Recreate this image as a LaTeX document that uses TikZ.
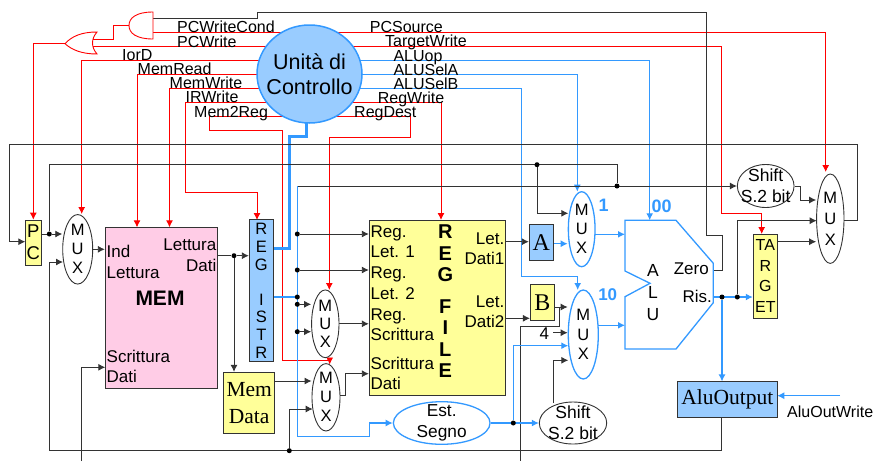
\documentclass[tikz,border=0pt]{standalone}
\usepackage{fontspec}
\setmainfont{Liberation Sans}
\newfontfamily\timesf{Liberation Serif}
\usetikzlibrary{arrows.meta,shapes,calc}
\pgfdeclarelayer{wires}
\pgfsetlayers{wires,main}
\definecolor{linkblue}{HTML}{3399FF}
\definecolor{regblue}{HTML}{99CCFF}
\definecolor{ylw}{HTML}{FFFF99}
\definecolor{memPink}{HTML}{FFCCE6}
\definecolor{wireGray}{HTML}{333333}
\tikzset{
  arr/.style={-{Latex[length=7pt,width=7pt]}},
  wire/.style={draw=wireGray,line width=0.9pt},
  redw/.style={draw=red,line width=0.9pt},
  bluew/.style={draw=linkblue,line width=1.3pt},
  box/.style={draw=wireGray,line width=1pt,inner sep=0pt,align=center},
  dot/.style={circle,fill=black,inner sep=0pt,minimum size=5pt},
  ctlab/.style={font=\fontsize{16}{18}\selectfont,inner sep=0pt,text height=11pt,text depth=2.5pt},
  txt/.style={font=\fontsize{17}{18}\selectfont,inner sep=0pt,text height=11.5pt,text depth=2.5pt},
  lab/.style={inner sep=0pt,align=center},
  ell/.style={ellipse,draw=wireGray,line width=0.9pt,fill=white,inner sep=0pt},
  mux/.style={ell,label={[lab,font=\fontsize{16.5}{#1}\selectfont]center:M\\U\\X}},
  gate/.style={draw=red,line width=0.9pt,fill=white},
}
\begin{document}
\begin{tikzpicture}[x=1pt,y=-1pt]
  \useasboundingbox (0,0) rectangle (875,461);
  \node[ell,draw=linkblue,line width=1.5pt,fill=regblue,minimum width=105pt,minimum height=98pt,label={[lab,font=\fontsize{21.5}{25}\selectfont]center:Unità di\\Controllo}] (cu) at (309.5,74) {};
  \node[box,fill=ylw,font=\fontsize{18.5}{22}\selectfont,minimum width=16pt,minimum height=45pt] (pc) at (33.3,242.7) {P\\C};
  \node[mux=19,minimum width=30pt,minimum height=69.5pt] (mux1) at (77.7,249.3) {};
  \node[box,fill=memPink,minimum width=112.4pt,minimum height=160.7pt] (mem) at (161.5,307.7) {};
  \node[box,fill=regblue,font=\fontsize{16.5}{17.6}\selectfont,minimum width=24pt,minimum height=141.7pt] (ireg) at (261.3,290.8) {R\\E\\G\\ \\I\\S\\T\\R};
  \node[box,fill=ylw,font=\timesf\fontsize{21.5}{27}\selectfont,minimum width=51pt,minimum height=60.7pt] (memd) at (249.2,402.7) {Mem\\Data};
  \node[box,fill=ylw,minimum width=136.4pt,minimum height=175pt] (rf) at (437.5,307.5) {};
  \node[mux=18.2,minimum width=27.4pt,minimum height=67.7pt] (muxa) at (325.3,323.8) {};
  \node[mux=19,minimum width=28pt,minimum height=67.4pt] (muxb) at (326,397.3) {};
  \node[box,fill=regblue,font=\timesf\fontsize{24}{25}\selectfont,minimum width=24pt,minimum height=35.7pt] (a) at (541.3,242.2) {A};
  \node[box,fill=ylw,font=\timesf\fontsize{24}{25}\selectfont,minimum width=24pt,minimum height=35.6pt] (b) at (542.4,302.5) {B};
  \node[mux=19,ell,draw=linkblue,line width=1.3pt,minimum width=26.7pt,minimum height=75pt] (muxalua) at (581.7,229.2) {};
  \node[mux=19.6,ell,draw=linkblue,line width=1.3pt,minimum width=30pt,minimum height=89pt] (muxalub) at (583.3,334.5) {};
  \node[ell,draw=linkblue,line width=1.3pt,minimum width=96.7pt,minimum height=42.6pt,label={[lab,font=\fontsize{17.3}{21}\selectfont]center:Est.\\Segno}] (est) at (441.7,423) {};
  \node[ell,fill=none,minimum width=67.4pt,minimum height=42pt,label={[lab,font=\fontsize{17.5}{21}\selectfont]center:Shift\\S.2 bit}] (shift2) at (573,423) {};
  \node[ell,fill=none,minimum width=56.7pt,minimum height=43pt,label={[lab,font=\fontsize{17.5}{21}\selectfont]center:Shift\\S.2 bit}] (shift1) at (765.7,186) {};
  \node[mux=21.2,minimum width=27.4pt,minimum height=89.4pt] (muxpc) at (830.3,218.7) {};
  \node[box,fill=ylw,font=\fontsize{16}{20.6}\selectfont,minimum width=24pt,minimum height=84pt] (target) at (765.3,276) {TA\\R\\G\\ET};
  \node[box,fill=regblue,font=\timesf\fontsize{21.5}{24}\selectfont,minimum width=100pt,minimum height=35.7pt] (aluo) at (727.3,399.8) {AluOutput};
  \draw[draw=linkblue,line width=1.3pt,fill=white] (625,220.3) coordinate (alutop) -- (676,220.3) -- (713.3,263.3) -- (713.3,302.7) -- (676,349) -- (625,349) -- (625,296.7) -- (650,283.3) -- (625,271) -- cycle;
  \draw[gate] (153,12) .. controls (136,12) and (129,18) .. (129,25.5) .. controls (129,33) and (136,39) .. (153,39) -- cycle;
  \draw[gate] (97,32) .. controls (82,32) and (72,36) .. (65,43.7) .. controls (72,50) and (82,54) .. (97,54) .. controls (91,47) and (91,39) .. (97,32) -- cycle;
  \node[lab,font=\fontsize{17.5}{22.2}\selectfont] (alulab) at (653,292.5) {A\\L\\U};
  \node[txt,anchor=east] (zero) at (709,270) {Zero};
  \node[txt,anchor=east] (ris) at (712,298) {Ris.};
  \node[ctlab,anchor=west] (lbcond) at (177,28.7) {PCWriteCond};
  \node[ctlab,anchor=west] (lbpcw) at (177,43) {PCWrite};
  \node[ctlab,anchor=west] (lbiord) at (122,56.7) {IorD};
  \node[ctlab,anchor=west] (lbmr) at (137.5,70.7) {MemRead};
  \node[ctlab,anchor=west] (lbmw) at (169.5,84.7) {MemWrite};
  \node[ctlab,anchor=west] (lbir) at (185.5,98.7) {IRWrite};
  \node[ctlab,anchor=west] (lbm2r) at (194,113) {Mem2Reg};
  \node[ctlab,anchor=west] (lbsrc) at (369.7,28.7) {PCSource};
  \node[ctlab,anchor=west] (lbtw) at (385,42.7) {TargetWrite};
  \node[ctlab,anchor=west] (lbop) at (393.3,57) {ALUop};
  \node[ctlab,anchor=west] (lbsa) at (393.3,71) {ALUSelA};
  \node[ctlab,anchor=west] (lbsb) at (393.3,85) {ALUSelB};
  \node[ctlab,anchor=west] (lbrw) at (377.7,99) {RegWrite};
  \node[ctlab,anchor=west] (lbrd) at (354,113) {RegDest};
  \node[txt,anchor=west] (lbind) at (106.5,253) {Ind};
  \node[txt,anchor=west] (lblet) at (106.5,274) {Lettura};
  \node[txt,anchor=east] (lbmlet) at (216.5,246) {Lettura};
  \node[txt,anchor=east] (lbmdat) at (216.5,267) {Dati};
  \node[txt,anchor=west] (lbscr) at (106.5,358) {Scrittura};
  \node[txt,anchor=west] (lbsdat) at (106.5,378) {Dati};
  \node[font=\bfseries\fontsize{21}{22}\selectfont,inner sep=0pt] (lbmem) at (160,298) {MEM};
  \node[txt,anchor=west] (rf1) at (370.5,233) {Reg.};
  \node[txt,anchor=west] (rf2) at (370.5,253) {Let. 1};
  \node[txt,anchor=west] (rf3) at (370.5,274) {Reg.};
  \node[txt,anchor=west] (rf4) at (370.5,295) {Let. 2};
  \node[txt,anchor=west] (rf5) at (370.5,316) {Reg.};
  \node[txt,anchor=west] (rf6) at (370.5,336) {Scrittura};
  \node[txt,anchor=west] (rf7) at (370.5,365) {Scrittura};
  \node[txt,anchor=west] (rf8) at (370.5,385) {Dati};
  \node[txt,anchor=east] (rf9) at (504.5,240) {Let.};
  \node[txt,anchor=east] (rf10) at (504.5,260) {Dati1};
  \node[txt,anchor=east] (rf11) at (504.5,303) {Let.};
  \node[txt,anchor=east] (rf12) at (504.5,323) {Dati2};
  \node[lab,font=\bfseries\fontsize{20}{21.5}\selectfont] (rfname) at (445.3,301.5) {R\\E\\G\\[10pt]F\\I\\L\\E};
  \node[font=\bfseries\fontsize{18}{20}\selectfont,text=linkblue,inner sep=0pt] (sel1) at (603.5,205) {1};
  \node[font=\bfseries\fontsize{18}{20}\selectfont,text=linkblue,inner sep=0pt] (sel00) at (661.7,206.7) {00};
  \node[font=\bfseries\fontsize{17}{20}\selectfont,text=linkblue,inner sep=0pt] (sel10) at (607.7,295) {10};
  \node[txt] (four) at (544.3,335) {4};
  \node[ctlab,anchor=west] (aow) at (787,413) {AluOutWrite};
  \node[dot] (d1) at (49.3,234) {};
  \node[dot] (d2) at (537,164.7) {};
  \node[dot] (d3) at (617,186) {};
  \node[dot] (d4) at (297.3,234) {};
  \node[dot] (d5) at (297.3,270) {};
  \node[dot] (d6) at (297.3,297) {};
  \node[dot] (d7) at (297.3,304.3) {};
  \node[dot] (d8) at (297.3,331.7) {};
  \node[dot] (d9) at (289.3,450.7) {};
  \node[dot] (d10) at (234,255.7) {};
  \node[dot] (d11) at (513.3,423) {};
  \node[dot] (d12) at (722,297) {};
  \node[dot] (d13) at (737.3,297) {};
  \coordinate (orout) at (65,43.7); \coordinate (andout) at (129,25.5); \coordinate (orin1) at (92,39); \coordinate (orin2) at (92,46.7);
  \coordinate (andin1) at (153,18); \coordinate (andin2) at (153,32.7);
  \coordinate (cu1) at (309.5,60.5); \coordinate (cu2) at (309.5,74.5); \coordinate (cu3) at (309.5,88.2); \coordinate (cu4) at (309.5,102); \coordinate (cu5) at (309.5,116);
  \coordinate (r1) at (185.7,192.7); \coordinate (r2) at (209,130); \coordinate (r3) at (282,360); \coordinate (r4) at (410,137); \coordinate (r5) at (721.7,213.7);
  \coordinate (iordin) at (81.7,214); \coordinate (memr) at (137,227.3); \coordinate (memw) at (169.5,227.3); \coordinate (irin) at (257,220);
  \coordinate (m2in) at (329.7,364.5); \coordinate (rdin) at (329.3,290); \coordinate (rwin) at (441,220); \coordinate (tgin) at (761.7,234); \coordinate (srcin) at (825.7,172);
  \coordinate (opin) at (649.7,220.3); \coordinate (sain) at (577.3,191.7); \coordinate (sbin) at (577.7,290); \coordinate (b1) at (521.7,276.7);
  \coordinate (cubot) at (306,100); \coordinate (t1) at (289.3,136.7); \coordinate (t2) at (261,248);
  \coordinate (k1) at (722,235); \coordinate (k2) at (706,12); \coordinate (k3) at (257,18); \coordinate (k4) at (617,164.7);
  \coordinate (zeroout) at (713,270); \coordinate (p0) at (842,220.7); \coordinate (p1) at (857.7,144); \coordinate (p2) at (9,241.7); \coordinate (pcin) at (25.3,241.7);
  \coordinate (m3in) at (568.3,213.3); \coordinate (a0) at (297.3,186); \coordinate (a1) at (369.3,436.7);
  \coordinate (mb0) at (340,395); \coordinate (mb1) at (345.3,373.7); \coordinate (e1) at (274.7,381); \coordinate (e2) at (312.7,409);
  \coordinate (f0) at (63,262); \coordinate (f1) at (721.7,417.7); \coordinate (f2) at (49.3,450.7);
  \coordinate (g0) at (81.7,461); \coordinate (g1) at (105.3,367.3); \coordinate (h0) at (217.7,255.7);
  \coordinate (i0) at (505.7,241.7); \coordinate (i1) at (505.7,318.3); \coordinate (i2) at (553.3,243.7); \coordinate (i3) at (595,234.3); \coordinate (i4) at (625,234.3);
  \coordinate (j0) at (554.3,307); \coordinate (j1) at (559,307); \coordinate (j2) at (520,326); \coordinate (j3) at (520,461);
  \coordinate (four0) at (553.3,332.7); \coordinate (l0) at (568.3,345.7); \coordinate (l1) at (553.3,403); \coordinate (l2) at (568.3,360.3);
  \coordinate (l3) at (598,325.3); \coordinate (l4) at (625,325.3); \coordinate (l5) at (713.3,297);
  \coordinate (n0) at (816.7,220.7); \coordinate (n1) at (777.3,241.7); \coordinate (n2) at (800.7,200); \coordinate (n3) at (840,395.7); \coordinate (n4) at (777.3,395.7);
  \begin{pgfonlayer}{wires}
    \draw[redw,arr] (orout) -| (pc.north);
    \draw[redw] (andout) -- ++(-16,0) |- (orin1);
    \draw[redw,arr] (andin2) -| (srcin);
    \draw[redw,arr] (orin2) -| (r5) -| (tgin);
    \draw[redw,arr] (cu1) -| (iordin);
    \draw[redw,arr] (cu2) -| (memr);
    \draw[redw,arr] (cu3) -| (memw);
    \draw[redw,arr] (cu4) -| (r1) -| (irin);
    \draw[redw,arr] (cu5) -| (r2) -| (r3) -| (m2in);
    \draw[redw,arr] (cu5) -| (r4) -| (rdin);
    \draw[redw,arr] (cu4) -| (rwin);
    \draw[bluew,arr] (cu1) -| (opin);
    \draw[bluew,arr] (cu2) -| (sain);
    \draw[bluew,arr] (cu3) -| (b1) -| (sbin);
    \draw[draw=linkblue,line width=3pt] (cubot) |- (t1) |- (t2);
    \draw[wire] (zeroout) -| (k1) -| (k2) -| (k3) -- (andin1);
    \draw[wire,arr] (p0) -| (p1) -| (p2) -- (pcin);
    \draw[wire] (pc.east |- d1) -- (d1);
    \draw[wire,arr] (d1) -- (d1 -| mux1.west);
    \draw[wire] (d1) |- (k4) -- (d3);
    \draw[wire,arr] (d2) |- (m3in);
    \draw[wire,arr] (a0) -- (shift1.west);
    \draw[bluew,arr] (a0) |- (a1) |- (est.west);
    \draw[wire,arr] (d4) -- (d4 -| rf.west);
    \draw[wire,arr] (d5) -- (d5 -| rf.west);
    \draw[bluew] (ireg.east |- d6) -- (d6);
    \draw[wire,arr] (d7) -- (d7 -| muxa.west);
    \draw[wire,arr] (d8) -- (d8 -| muxa.west);
    \draw[wire,arr] (muxa.east) -- (muxa.east -| rf.west);
    \draw[wire,arr] (mb0) -| (mb1) -- (mb1 -| rf.west);
    \draw[wire,arr] (e1) -- (e1 -| muxb.west);
    \draw[wire,arr] (d9) |- (e2);
    \draw[wire,arr] (f1) |- (f2) |- (f0);
    \draw[wire,arr] (g0) |- (g1);
    \draw[wire,arr] (mux1.east) -- (mux1.east -| mem.west);
    \draw[wire] (h0) -- (d10);
    \draw[wire,arr] (d10) -- (d10 -| ireg.west);
    \draw[wire,arr] (d10) -- (d10 |- memd.north);
    \draw[wire,arr] (i0) -- (i0 -| a.west);
    \draw[wire,arr] (i1) -- (i1 -| b.west);
    \draw[bluew,arr] (i2) -- (i2 -| muxalua.west);
    \draw[bluew,arr] (i3) -- (i4);
    \draw[wire,arr] (j0) -- (j0 -| muxalub.west);
    \draw[wire] (j1) |- (j2) -- (j3);
    \draw[wire,arr] (four0) -- (four0 -| muxalub.west);
    \draw[bluew,arr] (est.east) -- (shift2.west);
    \draw[bluew,arr] (d11) |- (l0);
    \draw[wire,arr] (l1) |- (l2);
    \draw[bluew,arr] (l3) -- (l4);
    \draw[bluew,arr] (l5) -- (l5 -| target.west);
    \draw[bluew,arr] (d12) -- (d12 |- aluo.north);
    \draw[wire,arr] (d13) |- (n0);
    \draw[wire,arr] (n1) -- (n1 -| muxpc.west);
    \draw[wire,arr] (shift1.east) -| (n2) -- (n2 -| muxpc.west);
    \draw[draw=linkblue,line width=0.9pt,arr] (n3) -- (n4);
  \end{pgfonlayer}
\end{tikzpicture}
\end{document}
